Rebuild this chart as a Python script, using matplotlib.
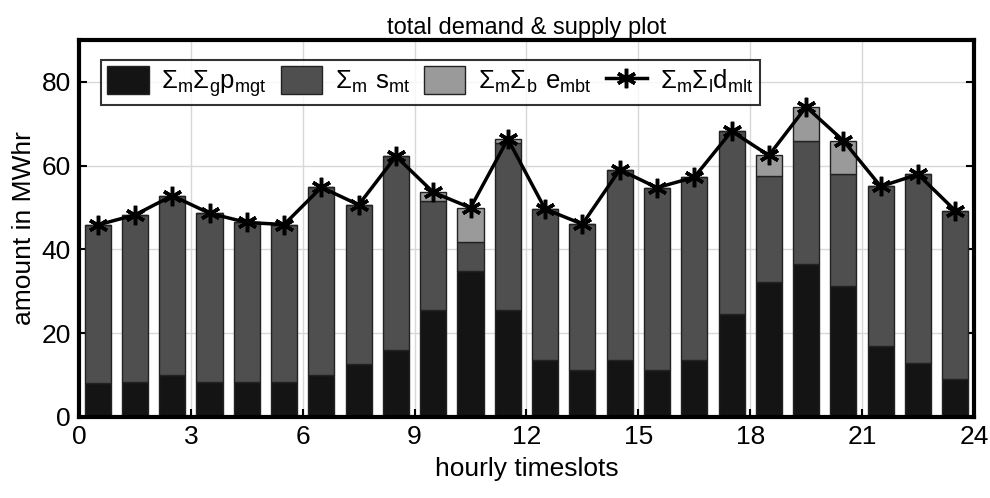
import numpy as np
import matplotlib
matplotlib.use('Agg')
import matplotlib.pyplot as plt

# %% data
hours = np.arange(24) + 0.5
gen = [8.0, 8.4, 10.1, 8.4, 8.4, 8.4, 10.1, 12.5, 15.9, 25.4, 34.8, 25.4,
       13.6, 11.2, 13.6, 11.2, 13.6, 24.5, 32.1, 36.6, 31.2, 16.9, 12.9, 9.0]
supply_top = [45.8, 48.2, 52.8, 48.6, 46.4, 45.9, 54.8, 50.6, 62.2, 51.5, 41.8, 65.4,
              49.6, 46.0, 59.0, 54.7, 57.2, 68.2, 57.4, 65.9, 58.0, 55.0, 57.9, 49.2]
demand = [45.8, 48.2, 52.8, 48.6, 46.4, 45.9, 54.8, 50.6, 62.2, 53.6, 49.9, 66.3,
          49.6, 46.0, 59.0, 54.7, 57.2, 68.2, 62.4, 74.0, 65.9, 55.0, 57.9, 49.2]

gen = np.array(gen)
supply = np.array(supply_top) - gen
storage = np.array(demand) - np.array(supply_top)
storage[storage < 0.5] = 0

# %% plot
plt.rcParams['font.family'] = ['Liberation Sans', 'DejaVu Sans']
plt.rcParams['mathtext.default'] = 'regular'

fig = plt.figure(figsize=(9.9, 4.98), dpi=100)
ax = fig.add_axes([0.0798, 0.163, 0.904, 0.757])

w = 0.7
b1 = ax.bar(hours, gen, w, color='#141414', edgecolor='#222222', lw=1, zorder=3)
b2 = ax.bar(hours, supply, w, bottom=gen, color='#4f4f4f', edgecolor='#222222', lw=1, zorder=3)
b3 = ax.bar(hours, storage, w, bottom=gen + supply, color='#9a9a9a', edgecolor='#222222', lw=1, zorder=3)
ln, = ax.plot(hours, demand, color='black', lw=2.5, marker=(6, 2, 0), ms=14, mew=2.5, zorder=4)

ax.set_xlim(0, 24)
ax.set_ylim(0, 90)
ax.set_xticks(range(0, 25, 3))
ax.set_yticks(range(0, 81, 20))
ax.grid(True, color='#d8d8d8', lw=1, zorder=0)
ax.tick_params(direction='in', length=6, width=1.5, labelsize=19, top=False, right=True, pad=6)
for s in ax.spines.values():
    s.set_linewidth(3)
    s.set_zorder(5)

ax.set_xlabel('hourly timeslots', fontsize=19, labelpad=6)
ax.set_ylabel('amount in MWhr', fontsize=19, labelpad=4)
ax.set_title('total demand & supply plot', fontsize=17, pad=4)

leg = ax.legend([b1, b2, b3, ln],
                [r'$\Sigma_m\Sigma_g p_{mgt}$', r'$\Sigma_m\ s_{mt}$',
                 r'$\Sigma_m\Sigma_b\ e_{mbt}$', r'$\Sigma_m\Sigma_l d_{mlt}$'],
                loc='upper left', ncol=4, fontsize=18.5, frameon=True, fancybox=False,
                edgecolor='black', handlelength=1.6, handleheight=1.3, columnspacing=0.55,
                handletextpad=0.5, borderpad=0.25, borderaxespad=0,
                bbox_to_anchor=(0.0246, 0.947))
leg.get_frame().set_linewidth(1.5)

fig.savefig('out.png', dpi=100)
